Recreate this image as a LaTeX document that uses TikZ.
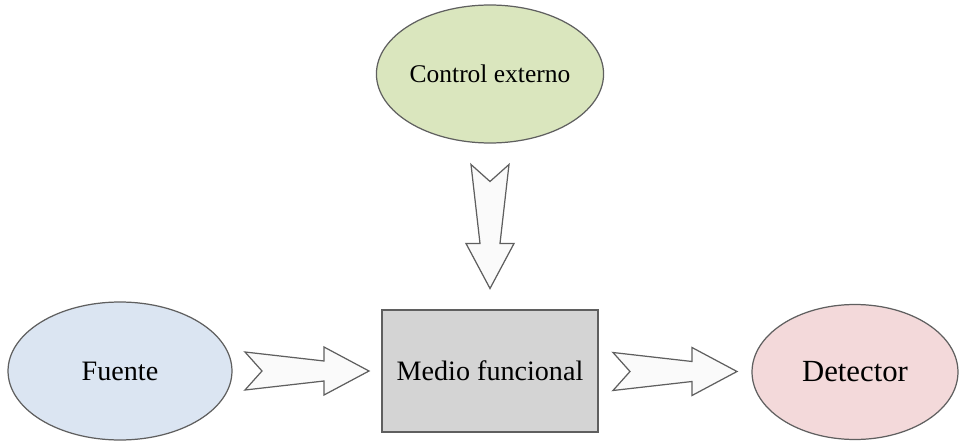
\documentclass[tikz,border=0pt]{standalone}
\usepackage{fontspec}
\setmainfont{Liberation Serif}
\usepackage{tikz}
\usetikzlibrary{shapes.geometric, calc}
\definecolor{ctrl-green}{RGB}{218, 230, 190}
\definecolor{src-blue}{RGB}{219, 229, 242}
\definecolor{det-pink}{RGB}{243, 217, 218}
\definecolor{box-gray}{RGB}{212, 212, 212}
\definecolor{edge-gray}{RGB}{95, 95, 95}

\begin{document}
\begin{tikzpicture}[
  x=0.02cm, y=-0.02cm,
  oval/.style={ellipse, draw=edge-gray, line width=0.7pt, inner sep=0pt,
               text centered},
  blk/.style={rectangle, draw=edge-gray, fill=box-gray, line width=0.7pt,
              minimum width=4.32cm, minimum height=2.44cm, inner sep=0pt},
  arrbody/.style={draw=edge-gray, fill=gray!4, line width=0.7pt, line join=miter},
  blockarr/.pic={
    \path[arrbody] (0,-19) -- (17,0) -- (0,19) -- (79,10) -- (79,24)
      -- (124,0) -- (79,-24) -- (79,-10) -- cycle;
  }
]
  \useasboundingbox (0,0) rectangle (964,446);

  \node[oval, fill=ctrl-green, minimum width=4.32cm, minimum height=2.76cm,
        font=\fontsize{14.5}{17}\selectfont] (ctrl) at (490,74) {Control externo};
  \node[oval, fill=src-blue, minimum width=4.48cm, minimum height=2.76cm,
        font=\fontsize{16}{19}\selectfont] (src) at (120,371) {Fuente};
  \node[blk, font=\fontsize{16}{19}\selectfont] (medio) at (490,371) {Medio funcional};
  \node[oval, fill=det-pink, minimum width=4.12cm, minimum height=2.7cm,
        font=\fontsize{17.5}{21}\selectfont] (det) at (855,372) {Detector};

  % block arrows between the parts
  \pic at ($(src.east)!0.5!(medio.west)+(-62,0)$) {blockarr};
  \pic at ($(medio.east)!0.5!(det.west)+(-62,0)$) {blockarr};
  \pic[rotate=-90] at ($(ctrl.south)!0.5!(medio.north)+(0,-62)$) {blockarr};
\end{tikzpicture}
\end{document}
